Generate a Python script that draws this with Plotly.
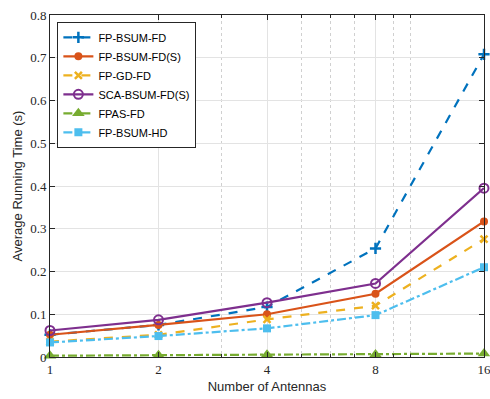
import plotly.graph_objects as go

antennas = [1, 2, 4, 8, 16]
fp_bsum_fd = [0.052, 0.075, 0.117, 0.254, 0.708]
fp_bsum_fd_s = [0.052, 0.075, 0.100, 0.148, 0.317]
fp_gd_fd = [0.036, 0.052, 0.088, 0.120, 0.276]
sca_bsum_fd_s = [0.062, 0.087, 0.127, 0.172, 0.395]
fpas_fd = [0.003, 0.004, 0.005, 0.006, 0.008]
fp_bsum_hd = [0.034, 0.049, 0.067, 0.098, 0.210]

x_ticks = [1, 2, 4, 8, 16]
x_minor = [3, 5, 6, 7, 9, 10]
y_ticks = [0, 0.1, 0.2, 0.3, 0.4, 0.5, 0.6, 0.7, 0.8]
y_labels = ["0", "0.1", "0.2", "0.3", "0.4", "0.5", "0.6", "0.7", "0.8"]

series = [
    ("FP-BSUM-FD", fp_bsum_fd, "#0072BD", "dash", dict(symbol="cross-thin", size=8, line=dict(width=2.5, color="#0072BD"))),
    ("FP-BSUM-FD(S)", fp_bsum_fd_s, "#D95319", "solid", dict(symbol="circle", size=8)),
    ("FP-GD-FD", fp_gd_fd, "#EDB120", "dash", dict(symbol="x-thin", size=7, line=dict(width=2.5, color="#EDB120"))),
    ("SCA-BSUM-FD(S)", sca_bsum_fd_s, "#7E2F8E", "solid", dict(symbol="circle-open", size=9, line=dict(width=2, color="#7E2F8E"))),
    ("FPAS-FD", fpas_fd, "#77AC30", "dashdot", dict(symbol="triangle-up", size=11)),
    ("FP-BSUM-HD", fp_bsum_hd, "#4DBEEE", "dashdot", dict(symbol="square", size=8)),
]

fig = go.Figure()
for name, vals, color, dash, marker in series:
    m = dict(color=color)
    m.update(marker)
    fig.add_trace(go.Scatter(
        x=antennas, y=vals, name=name, mode="lines+markers",
        line=dict(color=color, width=2.2, dash=dash),
        marker=m, cliponaxis=False,
    ))

fig.update_layout(
    width=490, height=399,
    margin=dict(l=50, r=6, t=15, b=42, autoexpand=False),
    paper_bgcolor="white", plot_bgcolor="white",
    font=dict(family="Liberation Sans, Arial, sans-serif", size=13, color="#262626"),
    legend=dict(
        x=0.017, y=0.98, xanchor="left", yanchor="top",
        bgcolor="white", bordercolor="#262626", borderwidth=1,
        font=dict(family="Liberation Sans, Arial, sans-serif", size=11, color="#000"),
        tracegroupgap=0, itemwidth=30,
    ),
    showlegend=True,
)

fig.update_xaxes(
    type="log", range=[0, 1.20412], automargin=False,
    tickmode="array", tickvals=x_ticks, ticktext=[str(v) for v in x_ticks],
    tickfont=dict(family="Liberation Serif, DejaVu Serif, serif", size=13, color="#262626"),
    ticklabeloverflow="allow",
    showgrid=True, gridcolor="#e3e3e3", gridwidth=1,
    ticks="inside", ticklen=5, tickcolor="#262626",
    showline=True, linecolor="#262626", linewidth=1, mirror="ticks",
    minor=dict(tickmode="array", tickvals=x_minor, showgrid=True, gridcolor="#d0d0d0",
               griddash="dot", gridwidth=1, ticks="inside", ticklen=3, tickcolor="#262626"),
    zeroline=False,
    title=dict(text="Number of Antennas", font=dict(size=13, color="#262626"), standoff=6),
)
fig.update_yaxes(
    range=[0, 0.8], automargin=False,
    tickmode="array", tickvals=y_ticks, ticktext=y_labels,
    tickfont=dict(family="Liberation Serif, DejaVu Serif, serif", size=13, color="#262626"),
    ticklabeloverflow="allow",
    showgrid=True, gridcolor="#e3e3e3", gridwidth=1,
    ticks="inside", ticklen=5, tickcolor="#262626",
    showline=True, linecolor="#262626", linewidth=1, mirror="ticks",
    zeroline=False,
    title=dict(text="Average Running Time (s)", font=dict(size=13, color="#262626"), standoff=4),
)

fig.write_html("out.html", config={"displayModeBar": False},
               post_script="document.body.style.margin='0';")
